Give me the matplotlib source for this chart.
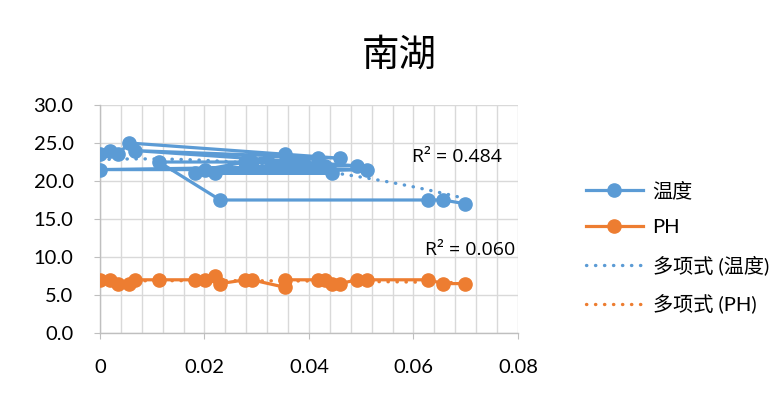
import numpy as np
import matplotlib
matplotlib.use('Agg')
import matplotlib.pyplot as plt
from matplotlib.ticker import MultipleLocator, FormatStrFormatter, FuncFormatter

plt.rcParams['font.family'] = ['Lato', 'Noto Sans CJK SC', 'DejaVu Sans']

BLUE = '#5B9BD5'
ORANGE = '#ED7D31'
GRID = '#D9D9D9'

# 温度 series, in sheet order
temp_x = [0.0, 0.0020, 0.0034, 0.0056, 0.0459, 0.0067, 0.0492, 0.0, 0.0511, 0.0182,
          0.0444, 0.0220, 0.0417, 0.0278, 0.0355, 0.0201, 0.0431, 0.0290, 0.0113,
          0.0230, 0.0628, 0.0657, 0.0699]
temp_y = [23.5, 24.0, 23.5, 25.0, 23.0, 24.0, 22.0, 21.5, 21.5, 21.0,
          21.0, 21.0, 23.0, 22.5, 23.5, 21.5, 22.0, 22.5, 22.5,
          17.5, 17.5, 17.5, 17.0]

# PH series
ph_x = [0.0, 0.0020, 0.0034, 0.0056, 0.0067, 0.0113, 0.0182, 0.0201, 0.0220, 0.0230,
        0.0278, 0.0290, 0.0355, 0.0355, 0.0417, 0.0431, 0.0444, 0.0459, 0.0492, 0.0511,
        0.0628, 0.0657, 0.0699]
ph_y = [7.0, 7.0, 6.5, 6.5, 7.0, 7.0, 7.0, 7.0, 7.5, 6.5,
        7.0, 7.0, 6.0, 7.0, 7.0, 7.0, 6.5, 6.5, 7.0, 7.0,
        7.0, 6.5, 6.5]

r2_labels = ['R² = 0.484', 'R² = 0.060']


def trend(xs, ys):
    coef = np.polyfit(xs, ys, 2)
    tx = np.linspace(min(xs), max(xs), 200)
    return tx, np.polyval(coef, tx)


def x_label(v, pos):
    return '0' if abs(v) < 1e-9 else '%.2f' % v


fig = plt.figure(figsize=(7.81, 3.98), dpi=100)
ax = fig.add_axes([100 / 781, 1 - 333 / 398, 418 / 781, 228 / 398])

ax.plot(temp_x, temp_y, '-o', color=BLUE, lw=2.3, ms=9.5, zorder=3, label='温度')
ax.plot(ph_x, ph_y, '-o', color=ORANGE, lw=2.3, ms=9.5, zorder=3, label='PH')

dots = (0, (0.1, 2.6))
tx, ty = trend(temp_x, temp_y)
ax.plot(tx, ty, color=BLUE, lw=2.4, ls=dots, dash_capstyle='round', zorder=4,
        label='多项式 (温度)')
px, py = trend(ph_x, ph_y)
ax.plot(px, py, color=ORANGE, lw=2.4, ls=dots, dash_capstyle='round', zorder=4,
        label='多项式 (PH)')

ax.text(0.0683, 23.2, r2_labels[0], fontsize=14, family='Open Sans',
        ha='center', va='center')
ax.text(0.0708, 10.9, r2_labels[1], fontsize=14, family='Open Sans',
        ha='center', va='center')

ax.set_xlim(0, 0.08)
ax.set_ylim(0, 30)
ax.xaxis.set_major_locator(MultipleLocator(0.02))
ax.xaxis.set_minor_locator(MultipleLocator(0.004))
ax.yaxis.set_major_locator(MultipleLocator(5))
ax.yaxis.set_major_formatter(FormatStrFormatter('%.1f'))
ax.xaxis.set_major_formatter(FuncFormatter(x_label))

ax.grid(which='major', color=GRID, lw=1)
ax.grid(which='minor', axis='x', color=GRID, lw=1)
ax.set_axisbelow(True)
for s in ['top', 'right']:
    ax.spines[s].set_visible(False)
for s in ['left', 'bottom']:
    ax.spines[s].set_color('#BFBFBF')
    ax.spines[s].set_linewidth(1)
ax.tick_params(which='major', length=4, color='#BFBFBF', labelsize=14.5)
ax.tick_params(axis='x', pad=15)
ax.tick_params(axis='y', pad=15)
ax.tick_params(which='minor', length=0)

fig.text(399 / 781, 1 - 55 / 398, '南湖', fontsize=27, ha='center', va='center')

fig.legend(loc='upper left', bbox_to_anchor=(568 / 781, 1 - 163 / 398), frameon=False,
           fontsize=14.5, handlelength=2.8, labelspacing=0.95, handletextpad=0.5)

fig.savefig('out.png', dpi=100)
